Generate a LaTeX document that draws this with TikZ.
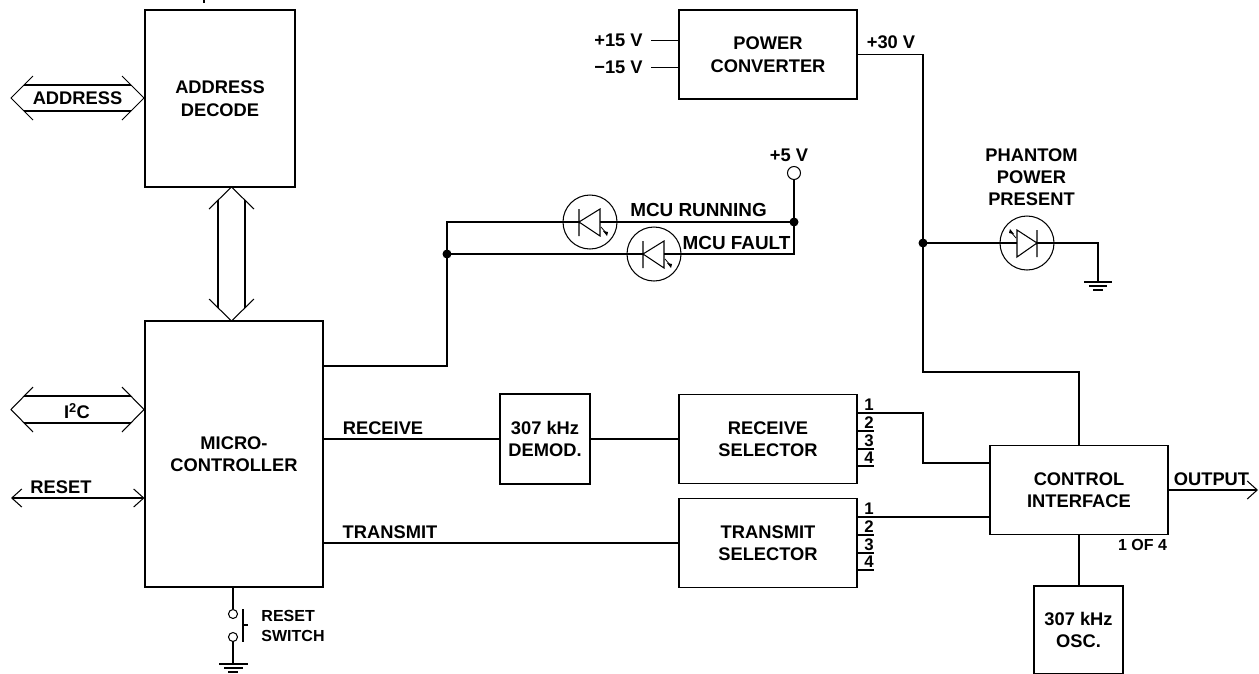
\documentclass[tikz,border=0pt]{standalone}
\usepackage{fontspec}
\setmainfont{Liberation Sans}
\usetikzlibrary{calc,positioning,arrows.meta}

\begin{document}
\begin{tikzpicture}
  [
    x=1pt, y=-1pt,
    line width=1.05pt,
    >={Straight Barb[length=10pt,width=18pt]},
    block/.style={
      draw, rectangle, align=center, inner sep=0pt,
      font=\bfseries\fontsize{18.3}{22.5}\selectfont
    },
    wide/.style={
      block, minimum width=178pt, minimum height=89pt
    },
    label/.style={
      inner sep=0pt, align=center,
      font=\bfseries\fontsize{18.3}{22}\selectfont
    },
    lamplabel/.style={
      label, font=\bfseries\fontsize{18.9}{22}\selectfont
    },
    pin/.style={
      inner sep=0pt,
      font=\bfseries\fontsize{16.8}{18}\selectfont
    },
    small/.style={
      inner sep=0pt, align=left,
      font=\bfseries\fontsize{16}{19.5}\selectfont
    },
    lamp/.style={
      draw, circle, inner sep=0pt, minimum size=54pt
    },
    port/.style={
      draw, circle, inner sep=0pt, minimum size=#1, fill=white
    },
    dot/.style={
      fill, circle, inner sep=0pt, minimum size=9pt
    }
  ]
\useasboundingbox (0,0) rectangle (1259,673);

% Left column
\node (decode) [block, minimum width=150pt, minimum height=177pt] at (220,98.5) {ADDRESS\\DECODE};
\node (micro)  [block, minimum width=178pt, minimum height=266pt] at (234,454) {MICRO-\\CONTROLLER};
\coordinate (tick) at (204,0);
\draw (tick) -- (204,3);

\node (addr) [label] at (77.5,98)  {ADDRESS};
\draw (24,85) -- (131,85) (24,111) -- (131,111);
\draw (33,76) -- (11,98) -- (33,120) (122,76) -- (144,98) -- (122,120);

\node (i2c) [label] at (77,411) {I\textsuperscript{2}C};
\draw (24,396) -- (131,396) (24,423) -- (131,423);
\draw (33,387) -- (11,409.5) -- (33,432) (122,387) -- (144,409.5) -- (122,432);

\node (reset) [label] at (61,487) {RESET};
\coordinate (resetend) at (11,498);
\draw [<->] (resetend) -- (resetend -| micro.west);

% Bus
\draw (218,200) -- (218,308) (245,200) -- (245,308);
\draw (209,209) -- (231.5,187) -- (254,209) (209,299) -- (231.5,321) -- (254,299);

% Reset switch
\node (swtop) [port=9pt] at (233,614) {};
\node (swbot) [port=9pt] at (233,637) {};
\coordinate (gndsw) at (233,664);
\draw (swtop.north) -- (swtop.north |- micro.south);
\draw (swbot.south) -- (gndsw);
\draw (243,609) -- (243,642) (243,625) -- (248,625);
\draw (219,664) -- (248,664) (224,668) -- (243,668) (228,672) -- (238,672);
\node (swlabel) [small] at (293,626) {RESET\\SWITCH};

% Indicators
\node (run)   [lamp] at (590,222) {};
\node (fault) [lamp] at (654,254) {};
\node (split) [dot]  at (447,254) {};
\node (rail)  [dot]  at (794,222) {};
\node (five)  [port=13pt] at (794,173) {};
\node (fivev) [label] at (789,155) {+5 V};
\node (runl)  [lamplabel] at (698.5,210) {MCU RUNNING};
\node (faultl) [lamplabel] at (736.5,243) {MCU FAULT};

\coordinate (microout) at (323,366);
\draw (microout) -| (split.center);
\draw (split.center) |- (579,222);
\draw (600,222) -- (rail.center);
\draw (split.center) -- (643,254);
\draw (664,254) -| (rail.center);
\draw (rail.center) -- (five.south);
\foreach \n in {run,fault} {
  \draw [shift={(\n)}] (-11,-13) -- (-11,14) (10,-13) -- (-11,0) -- (10,14) -- cycle;
  \draw [shift={(\n)}, line width=0.8pt] (11,5) -- (17,12);
  \fill [shift={(\n)}] (13,9) -- (18,10) -- (17,14) -- cycle;
}

% Power
\node (power) [wide] at (768,54.5) {POWER\\CONVERTER};
\node (pos)  [label] at (618.5,40.5) {+15 V};
\node (neg)  [label] at (618.5,67.5) {−15 V};
\node (out)  [label] at (891,42) {+30 V};
\draw (pos.east) ++(8,0) -- (pos.east -| power.west);
\draw (neg.east) ++(8,0) -- (neg.east -| power.west);

\node (ctrl)  [wide] at (1079,490) {CONTROL\\INTERFACE};
\node (of)    [small] at (1142.5,545) {1 OF 4};
\node (osc)   [block, minimum width=89pt, minimum height=88pt] at (1078.5,630) {307 kHz\\OSC.};
\node (tap)   [dot] at (923,243) {};
\coordinate (feed) at (923,372);
\draw (power.east) -| (tap.center);
\draw (tap.center) -- (feed) -| (ctrl.north);
\draw (ctrl.south) -- (ctrl.south |- osc.north);

% Phantom lamp
\node (phantom)  [lamp] at (1027,243) {};
\node (phantoml) [label] at (1031.5,177) {PHANTOM\\POWER\\PRESENT};
\coordinate (gndph) at (1098,282);
\draw (tap.center) -- (1017,243);
\draw (1037,243) -| (gndph);
\draw [shift={(phantom)}] (10,-13) -- (10,14) (-10,-13) -- (10,0) -- (-10,14) -- cycle;
\draw [shift={(phantom)}, line width=0.8pt] (-11,-5) -- (-17,-12);
\fill [shift={(phantom)}] (-13,-9) -- (-18,-10) -- (-17,-14) -- cycle;
\draw (1084,282) -- (1112,282) (1089,286) -- (1107,286) (1093,290) -- (1103,290);

% Receive and transmit
\node (demod) [block, minimum width=90pt, minimum height=90pt] at (545,439) {307 kHz\\DEMOD.};
\node (rxsel) [wide] at (768,439) {RECEIVE\\SELECTOR};
\node (txsel) [wide] at (768,543) {TRANSMIT\\SELECTOR};
\node (rxl)   [label] at (383,428) {RECEIVE};
\node (txl)   [label] at (390,532) {TRANSMIT};
\draw (micro.east |- demod.west) -- (demod.west);
\draw (demod.east) -- (rxsel.west);
\draw (micro.east |- txsel.west) -- (txsel.west);

\foreach \i/\y in {1/413,2/431,3/449,4/466} {
  \node (rxn\i) [pin] at (869,\y-8) {\i};
  \draw (rxsel.east |- 0,\y) -- (874,\y);
}
\foreach \i/\y in {1/517,2/535,3/553,4/570} {
  \node (txn\i) [pin] at (869,\y-8) {\i};
  \draw (txsel.east |- 0,\y) -- (874,\y);
}
\coordinate (rxbend) at (923,413);
\coordinate (rxin) at (ctrl.west |- 0,463);
\coordinate (txin) at (ctrl.west |- 0,517);
\draw (874,413) -- (rxbend) |- (rxin);
\draw (874,517) -- (txin);

% Output
\node (outl) [label] at (1211.5,479) {OUTPUT};
\coordinate (outend) at (1258,490);
\draw [->] (ctrl.east) -- (outend);

\end{tikzpicture}
\end{document}
